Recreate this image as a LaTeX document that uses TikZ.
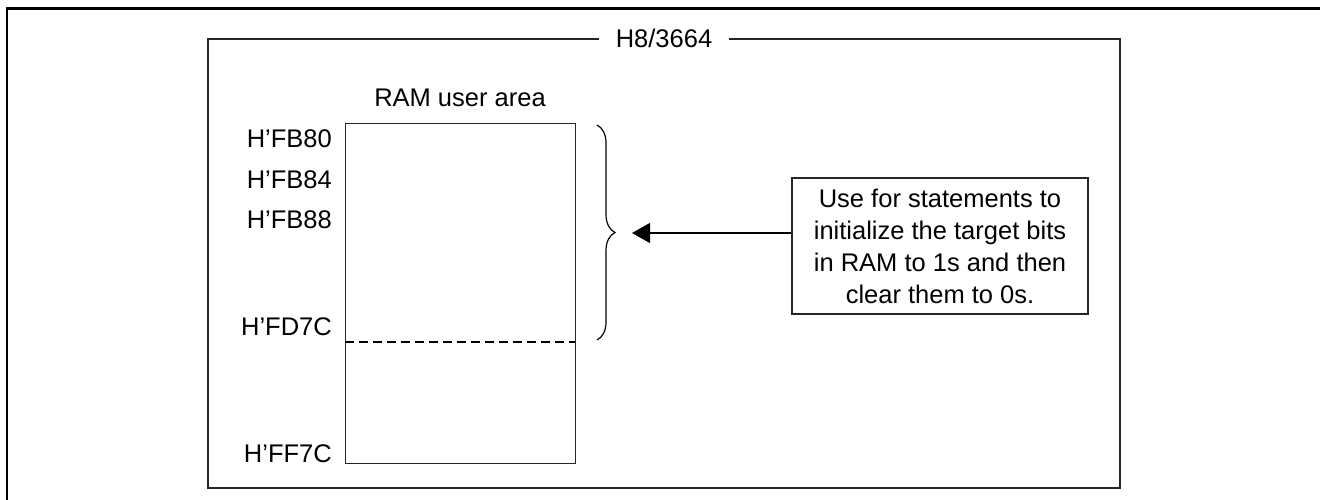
\documentclass[tikz,border=0pt]{standalone}
\usepackage{fontspec}
\setmainfont{Liberation Sans}
\usetikzlibrary{arrows.meta,decorations.pathreplacing}
\begin{document}
\begin{tikzpicture}[x=1pt,y=-1pt,
  lbl/.style={font=\fontsize{25.5}{32}\selectfont, inner sep=0pt},
  thin/.style={line width=1.3pt, draw=black!85},
]
\useasboundingbox (0,0) rectangle (1320,500);
\begin{scope}
\clip (0,0) rectangle (1320,500);
\draw[line width=2.6pt] (7,8.7) rectangle (1330,510);
\end{scope}
% inner chip box
\draw[thin] (208,39) rectangle (1120,488);
\node[lbl, fill=white, inner xsep=17pt, anchor=base] (title) at (664,48) {H8/3664};
% RAM area
\node[thin, draw, minimum width=230pt, minimum height=340pt, inner sep=0pt, anchor=north west] (ram) at (345,123) {};
\node[lbl, anchor=base] (ramlbl) at (460,107) {RAM user area};
\coordinate (dl) at (345,342);
\coordinate (dr) at (575,342);
\draw[line width=1.2pt, dash pattern=on 9pt off 5pt] (dl) -- (dr);
\node[lbl, anchor=base east] (a1) at (332,147) {H’FB80};
\node[lbl, anchor=base east] (a2) at (332,189) {H’FB84};
\node[lbl, anchor=base east] (a3) at (332,228) {H’FB88};
\node[lbl, anchor=base east] (a4) at (332,335) {H’FD7C};
\node[lbl, anchor=base east] (a5) at (332,462) {H’FF7C};
% brace
\coordinate (bt) at (597,125);
\coordinate (bb) at (597,340);
\draw[line width=1.2pt, decorate, decoration={brace, amplitude=18pt}] (bt) -- (bb);
\coordinate (tip) at (632,233);
% text box
\node[thin, draw, lbl, align=center, minimum width=296pt, minimum height=136pt] (tb) at (940,246)
  {Use for statements to\\initialize the target bits\\in RAM to 1s and then\\clear them to 0s.};
\draw[line width=1.3pt, -{Triangle[length=18pt,width=20pt]}] (tb.west |- tip) -- (tip);
\end{tikzpicture}
\end{document}
